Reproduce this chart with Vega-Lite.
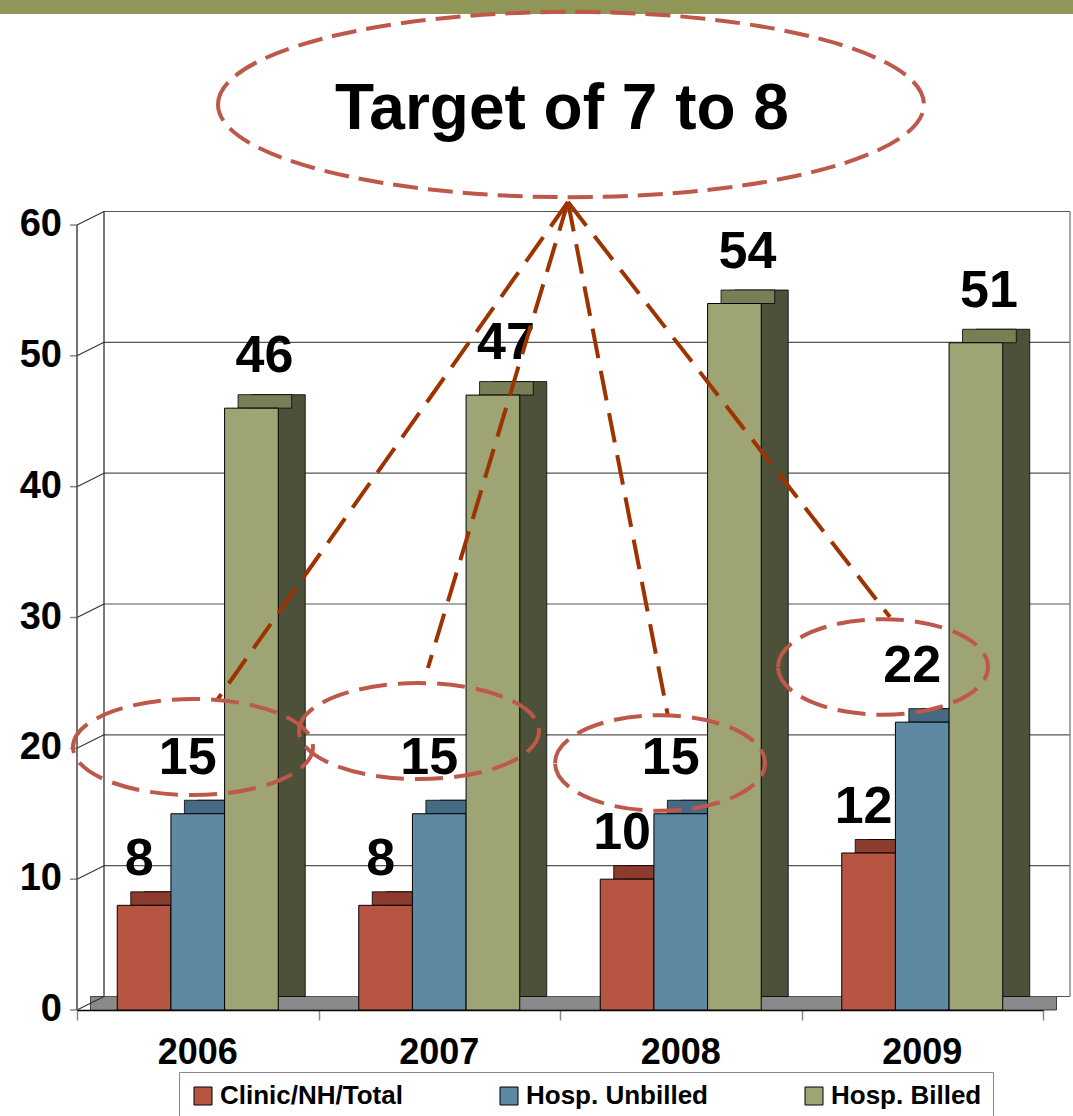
{
  "$schema": "https://vega.github.io/schema/vega-lite/v6.json",
  "width": 966,
  "height": 785,
  "autosize": {"type": "none"},
  "padding": {"left": 77, "top": 225, "right": 30, "bottom": 106},
  "background": "white",
  "config": {
    "view": {"stroke": null},
    "text": {"font": "Liberation Sans"},
    "axis": {"labelFont": "Liberation Sans"},
    "legend": {"labelFont": "Liberation Sans"}
  },
  "datasets": {
    "bars": [
      {"year": "2006", "series": "Clinic/NH/Total", "value": 8},
      {"year": "2006", "series": "Hosp. Unbilled", "value": 15},
      {"year": "2006", "series": "Hosp. Billed", "value": 46},
      {"year": "2007", "series": "Clinic/NH/Total", "value": 8},
      {"year": "2007", "series": "Hosp. Unbilled", "value": 15},
      {"year": "2007", "series": "Hosp. Billed", "value": 47},
      {"year": "2008", "series": "Clinic/NH/Total", "value": 10},
      {"year": "2008", "series": "Hosp. Unbilled", "value": 15},
      {"year": "2008", "series": "Hosp. Billed", "value": 54},
      {"year": "2009", "series": "Clinic/NH/Total", "value": 12},
      {"year": "2009", "series": "Hosp. Unbilled", "value": 22},
      {"year": "2009", "series": "Hosp. Billed", "value": 51}
    ],
    "grid": [{"g": 0}, {"g": 10}, {"g": 20}, {"g": 30}, {"g": 40}, {"g": 50}, {"g": 60}],
    "one": [{"g": 0}],
    "callouts": [
      {"kind": "big", "u": 2.0455, "v": 69.21, "label": "Target of 7 to 8", "tu": 2.008, "tv": 68.8},
      {"kind": "small1", "u": 0.4803, "v": 20.10},
      {"kind": "small1", "u": 1.4161, "v": 21.32},
      {"kind": "small2", "u": 2.4141, "v": 18.88},
      {"kind": "small2", "u": 3.3375, "v": 26.22}
    ],
    "connectors": [
      {"u": 2.033, "v": 61.76, "u2": 0.580, "v2": 23.69},
      {"u": 2.033, "v": 61.76, "u2": 1.453, "v2": 26.14},
      {"u": 2.033, "v": 61.76, "u2": 2.447, "v2": 22.47},
      {"u": 2.033, "v": 61.76, "u2": 3.366, "v2": 30.04}
    ]
  },
  "layer": [
    {
      "data": {"name": "one"},
      "mark": {"type": "rect", "color": "#8F9657", "xOffset": -77, "x2Offset": 30},
      "encoding": {
        "x": {"datum": 0, "type": "quantitative", "scale": {"domain": [0, 4], "nice": false, "zero": false}, "axis": null},
        "x2": {"datum": 4},
        "y": {"datum": 77.2, "type": "quantitative", "scale": {"domain": [0, 60], "nice": false}, "axis": null},
        "y2": {"datum": 76.13}
      }
    },
    {
      "data": {"name": "one"},
      "mark": {"type": "rect", "color": "#8A8A8A", "stroke": "#222", "strokeWidth": 0.8, "xOffset": 13.5, "x2Offset": 13.5, "y2Offset": -13.5},
      "encoding": {
        "x": {"datum": 0, "type": "quantitative", "scale": {"domain": [0, 4], "nice": false, "zero": false},
              "axis": {"orient": "bottom", "values": [0, 1, 2, 3, 4], "labels": false, "domain": false, "grid": false, "ticks": true, "tickSize": 10, "tickColor": "#888", "tickWidth": 1.5, "title": null}},
        "x2": {"datum": 4},
        "y": {"datum": 0, "type": "quantitative", "axis": null},
        "y2": {"datum": 0}
      }
    },
    {
      "data": {"name": "grid"},
      "mark": {"type": "rule", "color": "#555", "strokeWidth": 1.2, "xOffset": 27, "x2Offset": 27, "yOffset": -13.5},
      "encoding": {
        "x": {"datum": 0, "type": "quantitative", "scale": {"domain": [0, 4], "nice": false, "zero": false}, "axis": null},
        "x2": {"datum": 4},
        "y": {"field": "g", "type": "quantitative", "axis": null}
      }
    },
    {
      "data": {"name": "grid"},
      "mark": {"type": "rule", "color": "#333", "strokeWidth": 1.2, "x2Offset": 27, "y2Offset": -13.5},
      "encoding": {
        "x": {"datum": 0, "type": "quantitative", "scale": {"domain": [0, 4], "nice": false, "zero": false}, "axis": null},
        "x2": {"datum": 0},
        "y": {"field": "g", "type": "quantitative", "axis": null},
        "y2": {"field": "g"}
      }
    },
    {
      "data": {"name": "grid"},
      "mark": {"type": "rule", "color": "#888", "strokeWidth": 1.5, "x2Offset": -7},
      "encoding": {
        "x": {"datum": 0, "type": "quantitative", "scale": {"domain": [0, 4], "nice": false, "zero": false}, "axis": null},
        "x2": {"datum": 0},
        "y": {"field": "g", "type": "quantitative", "axis": null},
        "y2": {"field": "g"}
      }
    },
    {
      "data": {"name": "grid"},
      "mark": {"type": "text", "fontSize": 38, "fontWeight": "bold", "color": "#000", "align": "right", "baseline": "middle", "dx": -15},
      "encoding": {
        "x": {"datum": 0, "type": "quantitative", "scale": {"domain": [0, 4], "nice": false, "zero": false}, "axis": null},
        "y": {"field": "g", "type": "quantitative", "axis": null},
        "text": {"field": "g"}
      }
    },
    {
      "data": {"name": "one"},
      "mark": {"type": "rule", "color": "#444", "strokeWidth": 1.5},
      "encoding": {
        "x": {"datum": 0, "type": "quantitative", "scale": {"domain": [0, 4], "nice": false, "zero": false}, "axis": null},
        "y": {"datum": 0, "type": "quantitative", "axis": null},
        "y2": {"datum": 60}
      }
    },
    {
      "data": {"name": "one"},
      "mark": {"type": "rule", "color": "#222", "strokeWidth": 1.2, "xOffset": 27, "yOffset": -13.5, "y2Offset": -13.5},
      "encoding": {
        "x": {"datum": 0, "type": "quantitative", "scale": {"domain": [0, 4], "nice": false, "zero": false}, "axis": null},
        "y": {"datum": 0, "type": "quantitative", "axis": null},
        "y2": {"datum": 60}
      }
    },
    {
      "data": {"name": "one"},
      "mark": {"type": "rule", "color": "#888", "strokeWidth": 1.5, "xOffset": 27, "yOffset": -13.5, "y2Offset": -13.5},
      "encoding": {
        "x": {"datum": 4, "type": "quantitative", "scale": {"domain": [0, 4], "nice": false, "zero": false}, "axis": null},
        "y": {"datum": 0, "type": "quantitative", "axis": null},
        "y2": {"datum": 60}
      }
    },
    {
      "data": {"name": "bars"},
      "mark": {"type": "bar", "yOffset": -13.5, "y2Offset": -13.5, "stroke": "#000", "strokeWidth": 0.8},
      "encoding": {
        "x": {"field": "year", "type": "nominal", "scale": {"paddingInner": 0.3333, "paddingOuter": 0.1667}, "axis": null},
        "xOffset": {"field": "series", "type": "nominal", "scale": {"domain": ["Clinic/NH/Total", "Hosp. Unbilled", "Hosp. Billed"], "range": [27, 188], "paddingInner": 0, "paddingOuter": 0}},
        "y": {"field": "value", "type": "quantitative", "axis": null},
        "color": {"field": "series", "type": "nominal", "scale": {"domain": ["Clinic/NH/Total", "Hosp. Unbilled", "Hosp. Billed"], "range": ["#8C3C2E", "#466A82", "#4D5139"]}, "legend": null}
      }
    },
    {
      "data": {"name": "bars"},
      "mark": {"type": "tick", "thickness": 13.5, "size": 53.7, "yOffset": -6.75, "stroke": "#000", "strokeWidth": 0.8, "opacity": 1},
      "encoding": {
        "x": {"field": "year", "type": "nominal", "scale": {"paddingInner": 0.3333, "paddingOuter": 0.1667}, "axis": null},
        "xOffset": {"field": "series", "type": "nominal", "scale": {"domain": ["Clinic/NH/Total", "Hosp. Unbilled", "Hosp. Billed"], "range": [13.5, 174.5], "paddingInner": 0, "paddingOuter": 0}},
        "y": {"field": "value", "type": "quantitative", "axis": null},
        "color": {"field": "series", "type": "nominal", "scale": {"domain": ["Clinic/NH/Total", "Hosp. Unbilled", "Hosp. Billed"], "range": ["#8C3C2E", "#466A82", "#7A7E57"]}, "legend": null}
      }
    },
    {
      "data": {"name": "bars"},
      "mark": {"type": "bar", "stroke": "#000", "strokeWidth": 1},
      "encoding": {
        "x": {"field": "year", "type": "nominal", "scale": {"paddingInner": 0.3333, "paddingOuter": 0.1667},
              "axis": {"orient": "bottom", "title": null, "labelFontSize": 36, "labelFontWeight": "bold", "labelColor": "#000", "ticks": false, "tickSize": 0, "labelPadding": 25, "domainColor": "#000", "domainWidth": 1.5, "labelAngle": 0}},
        "xOffset": {"field": "series", "type": "nominal", "scale": {"domain": ["Clinic/NH/Total", "Hosp. Unbilled", "Hosp. Billed"], "paddingInner": 0, "paddingOuter": 0}},
        "y": {"field": "value", "type": "quantitative", "scale": {"domain": [0, 60], "nice": false}, "axis": null},
        "color": {"field": "series", "type": "nominal",
                  "scale": {"domain": ["Clinic/NH/Total", "Hosp. Unbilled", "Hosp. Billed"], "range": ["#B65541", "#5E89A3", "#9EA474"]},
                  "legend": {"orient": "none", "legendX": 102, "legendY": 847, "direction": "horizontal", "title": null,
                             "symbolType": "square", "symbolSize": 324, "symbolStrokeColor": "#000", "symbolStrokeWidth": 1,
                             "labelFontSize": 26, "labelFontWeight": "bold", "labelColor": "#000", "labelLimit": 400,
                             "columnPadding": 93, "padding": 11, "strokeColor": "#888", "fillColor": "#fff"}}
      }
    },
    {
      "data": {"name": "bars"},
      "transform": [{"filter": "datum.series == 'Clinic/NH/Total'"}],
      "mark": {"type": "text", "fontSize": 52, "fontWeight": "bold", "color": "#000", "baseline": "middle", "align": "center", "dx": -5, "dy": -46},
      "encoding": {
        "x": {"field": "year", "type": "nominal", "scale": {"paddingInner": 0.3333, "paddingOuter": 0.1667}, "axis": null},
        "xOffset": {"field": "series", "type": "nominal", "scale": {"type": "point", "domain": ["Clinic/NH/Total", "Hosp. Unbilled", "Hosp. Billed"], "padding": 0.5}},
        "y": {"field": "value", "type": "quantitative", "axis": null},
        "text": {"field": "value"}
      }
    },
    {
      "data": {"name": "bars"},
      "transform": [{"filter": "datum.series == 'Hosp. Unbilled'"}],
      "mark": {"type": "text", "fontSize": 52, "fontWeight": "bold", "color": "#000", "baseline": "middle", "align": "center", "dx": -10, "dy": -56},
      "encoding": {
        "x": {"field": "year", "type": "nominal", "scale": {"paddingInner": 0.3333, "paddingOuter": 0.1667}, "axis": null},
        "xOffset": {"field": "series", "type": "nominal", "scale": {"type": "point", "domain": ["Clinic/NH/Total", "Hosp. Unbilled", "Hosp. Billed"], "padding": 0.5}},
        "y": {"field": "value", "type": "quantitative", "axis": null},
        "text": {"field": "value"}
      }
    },
    {
      "data": {"name": "bars"},
      "transform": [{"filter": "datum.series == 'Hosp. Billed'"}],
      "mark": {"type": "text", "fontSize": 52, "fontWeight": "bold", "color": "#000", "baseline": "middle", "align": "center", "dx": 13, "dy": -52},
      "encoding": {
        "x": {"field": "year", "type": "nominal", "scale": {"paddingInner": 0.3333, "paddingOuter": 0.1667}, "axis": null},
        "xOffset": {"field": "series", "type": "nominal", "scale": {"type": "point", "domain": ["Clinic/NH/Total", "Hosp. Unbilled", "Hosp. Billed"], "padding": 0.5}},
        "y": {"field": "value", "type": "quantitative", "axis": null},
        "text": {"field": "value"}
      }
    },
    {
      "data": {"name": "connectors"},
      "mark": {"type": "rule", "color": "#9E3300", "strokeWidth": 4, "strokeDash": [30, 13], "strokeCap": "butt"},
      "encoding": {
        "x": {"field": "u", "type": "quantitative", "scale": {"domain": [0, 4], "nice": false, "zero": false}, "axis": null},
        "x2": {"field": "u2"},
        "y": {"field": "v", "type": "quantitative", "axis": null},
        "y2": {"field": "v2"}
      }
    },
    {
      "data": {"name": "callouts"},
      "transform": [{"filter": "datum.kind == 'big'"}],
      "mark": {"type": "point", "filled": false, "opacity": 1, "stroke": "#BD584A", "strokeWidth": 4, "strokeDash": [25, 10], "size": 498436,
               "shape": "M-1,0C-1,-0.145 -0.5523,-0.2625 0,-0.2625C0.5523,-0.2625 1,-0.145 1,0C1,0.145 0.5523,0.2625 0,0.2625C-0.5523,0.2625 -1,0.145 -1,0Z"},
      "encoding": {
        "x": {"field": "u", "type": "quantitative", "scale": {"domain": [0, 4], "nice": false, "zero": false}, "axis": null},
        "y": {"field": "v", "type": "quantitative", "axis": null}
      }
    },
    {
      "data": {"name": "callouts"},
      "transform": [{"filter": "datum.kind == 'small1'"}],
      "mark": {"type": "point", "filled": false, "opacity": 1, "stroke": "#BD584A", "strokeWidth": 4, "strokeDash": [28, 11], "size": 57600,
               "shape": "M-1,0C-1,-0.2209 -0.5523,-0.4 0,-0.4C0.5523,-0.4 1,-0.2209 1,0C1,0.2209 0.5523,0.4 0,0.4C-0.5523,0.4 -1,0.2209 -1,0Z"},
      "encoding": {
        "x": {"field": "u", "type": "quantitative", "scale": {"domain": [0, 4], "nice": false, "zero": false}, "axis": null},
        "y": {"field": "v", "type": "quantitative", "axis": null}
      }
    },
    {
      "data": {"name": "callouts"},
      "transform": [{"filter": "datum.kind == 'small2'"}],
      "mark": {"type": "point", "filled": false, "opacity": 1, "stroke": "#BD584A", "strokeWidth": 4, "strokeDash": [28, 11], "size": 44100,
               "shape": "M-1,0C-1,-0.2513 -0.5523,-0.455 0,-0.455C0.5523,-0.455 1,-0.2513 1,0C1,0.2513 0.5523,0.455 0,0.455C-0.5523,0.455 -1,0.2513 -1,0Z"},
      "encoding": {
        "x": {"field": "u", "type": "quantitative", "scale": {"domain": [0, 4], "nice": false, "zero": false}, "axis": null},
        "y": {"field": "v", "type": "quantitative", "axis": null}
      }
    },
    {
      "data": {"name": "callouts"},
      "transform": [{"filter": "datum.kind == 'big'"}],
      "mark": {"type": "text", "fontSize": 64, "fontWeight": "bold", "color": "#000", "baseline": "middle", "align": "center"},
      "encoding": {
        "x": {"field": "tu", "type": "quantitative", "scale": {"domain": [0, 4], "nice": false, "zero": false}, "axis": null},
        "y": {"field": "tv", "type": "quantitative", "axis": null},
        "text": {"field": "label"}
      }
    }
  ],
  "resolve": {"scale": {"x": "independent", "xOffset": "independent", "color": "independent"}}
}
